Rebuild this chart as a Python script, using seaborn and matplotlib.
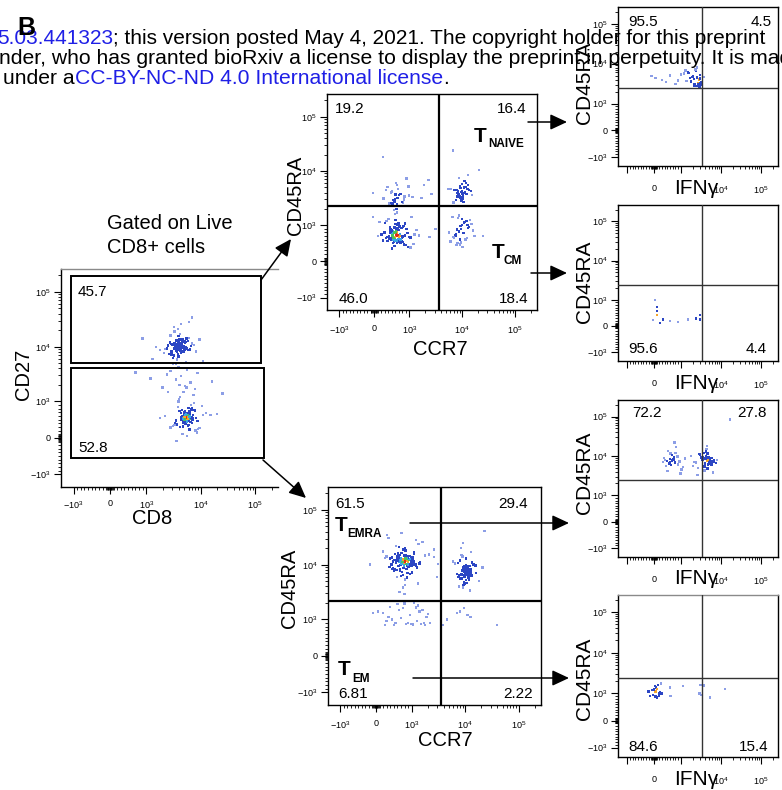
import numpy as np
import pandas as pd
import matplotlib
matplotlib.use("Agg")
import matplotlib.pyplot as plt
import seaborn as sns
from matplotlib.patches import Rectangle, FancyArrowPatch
from matplotlib.scale import SymmetricalLogTransform

# ---------------- DATA (fluorescence units) ----------------
# Panel A: CD8 (x) vs CD27 (y)
A_up_x = [4100, 3600, 5200, 2900, 4500, 3300, 6100, 3900, 2500, 4800, 3500, 5600, 4200, 3000, 7000, 3700, 4400, 2700, 5000, 3800,
          6600, 3200, 4600, 2200, 4000, 5400, 3400, 8200, 3900, 4700, 2600, 5800, 3600, 4300, 1800, 5100, 3100, 4900, 9500, 3700,
          4100, 2800, 6300, 3500, 4500, 2400, 5300, 3800, 7600, 3300, 4200, 1500, 5500, 4000, 3000, 6900, 3600, 4800, 2100, 4300,
          11000, 3900, 5000, 2900, 4400, 3200, 6000, 3700, 1300, 4600]
A_up_y = [10000, 8500, 12500, 7200, 11000, 9200, 14500, 6500, 10500, 8000, 13000, 9500, 17000, 7600, 11500, 5800, 9800, 12000, 8800, 21000,
          10200, 6900, 13800, 9000, 11200, 5200, 10800, 8200, 15500, 9400, 7400, 12800, 10100, 26000, 8600, 11800, 6200, 9700, 13400, 7900,
          10400, 16000, 8900, 4800, 11600, 9300, 12200, 7000, 10600, 19000, 8400, 9900, 14000, 6700, 11000, 34000, 9100, 12600, 7700, 10300,
          5500, 13200, 9600, 8100, 11400, 23000, 8700, 10900, 6000, 12400]
A_up_x2 = [3800, 4300, 3500, 4900, 4000, 3200, 4600, 3700, 5300, 4100, 3400, 4400, 3900, 5000, 3600, 4200, 3100, 4700, 4000, 3800,
           4500, 3300, 5600, 4100, 3700, 4800, 3500, 4300, 2900, 4000]
A_up_y2 = [9800, 11200, 8700, 10400, 12600, 9300, 8100, 10900, 9600, 13400, 10100, 7600, 11700, 9000, 10600, 8400, 11000, 12100, 9500, 7300,
           10300, 11600, 9100, 8600, 12900, 9900, 10700, 8900, 11300, 10000]
A_lo_x = [5600, 4800, 6400, 4200, 7200, 5100, 3800, 6000, 5300, 8000, 4500, 6800, 5800, 3400, 7600, 5000, 4300, 9000, 5500, 6200,
          4000, 7000, 5200, 3100, 6600, 4700, 8500, 5900, 4400, 10500, 5400, 6100, 3700, 7400, 4900, 5700, 2800, 6900, 5000, 12500,
          4600, 6300, 5300, 3900, 8200, 5800, 4100, 7100, 2500, 6500, 5100, 9500, 4400, 6000, 3500, 5600, 15000, 4800, 6700, 5200,
          3300, 7800, 5500, 4600, 2200, 6200, 5000, 8800, 4200, 5900, 3600, 20000, 5300, 6600, 1800, 4700, 7300, 5700, 4000, 11000]
A_lo_y = [550, 420, 700, 300, 620, 480, 850, 350, 580, 200, 760, 510, 650, 390, 950, 460, 570, 250, 690, 530,
          1100, 410, 600, 320, 780, 490, 150, 640, 560, 880, 440, 720, 370, 1300, 520, 610, 280, 800, 470, 680,
          100, 590, 450, 1000, 540, 330, 730, 500, 1500, 430, 660, 270, 570, 820, 480, 50, 630, 400, 900, 550,
          360, 750, 1800, 510, 600, 230, 700, 460, 1200, 580, -80, 650, 420, 2200, 540, 310, 770, 490, 980, 620]
A_lo_x2 = [5400, 6000, 4900, 5700, 5100, 6500, 4600, 5300, 5900, 4300, 6200, 5000, 5600, 4800, 6800, 5200, 5800, 4500, 6100, 5500,
           4700, 6400, 5300, 5000, 5900, 4400, 7200, 5600, 5100, 6300]
A_lo_y2 = [560, 480, 640, 520, 700, 430, 600, 540, 460, 680, 580, 500, 620, 420, 560, 740, 510, 590, 470, 650,
           530, 610, 390, 570, 690, 500, 550, 450, 630, 590]
A_mid_x = [3500, 5200, 2800, 4400, 6500, 3900, 7800, 2400, 4800, 5600, 1200, 900, 3100, 8800, 4100, 700, 6100, 2000, 16000, 25000]
A_mid_y = [2500, 1900, 3600, 2900, 2200, 4200, 1700, 3100, 1500, 3800, 2600, 14000, 4800, 3300, 2000, 3400, 28000, 1800, 2300, 1400]
A_gate_upper = (-1100, 127600, 5050, 195000)   # x0, x1, y0, y1
A_gate_lower = (-1100, 145000, -546, 4090)
A_pct = ["45.7", "52.8"]

# Panel B1: CCR7 (x) vs CD45RA (y), CD27+ cells
B1_main_x = [650, 480, 820, 560, 300, 720, 900, 610, 400, 1050, 530, 760, 680, 250, 590, 870, 450, 1200, 640, 700,
             350, 780, 520, 960, 600, 420, 1350, 690, 560, 200, 740, 830, 470, 620, 1100, 380, 660, 510, 910, 580,
             150, 730, 800, 440, 1000, 630, 550, 290, 850, 670, 1500, 490, 710, 600, 360, 940, 570, 770, 410, 640,
             1250, 530, 690, 330, 880, 610, 460, 1050, 720, 100, 590, 810, 500, 990, 650, 380, 1700, 560, 750, 620,
             430, 860, 680, 540, 260, 920, 600, 790, 470, 1150, 640, 520, 700, 340, 840, 580, -30, 970, 660, 490]
B1_main_y = [800, 620, 950, 540, 1100, 700, 450, 880, 1300, 660, 750, 520, 1000, 580, 1600, 720, 830, 480, 910, 640,
             1200, 560, 780, 400, 1050, 690, 860, 600, 1900, 740, 510, 970, 650, 820, 1400, 570, 710, 350, 890, 630,
             1150, 760, 530, 940, 680, 2000, 600, 800, 470, 1020, 720, 850, 550, 1250, 670, 780, 430, 930, 610, 1700,
             740, 500, 870, 650, 1080, 590, 810, 380, 960, 700, 3000, 2600, 4200, 3500, 2400, 5000, 3200, 2800, 3800, 6000,
             2500, 3400, 4600, 2900, 3100, 7200, 3700, 2700, 4000, 3300, 5500, 2450, 3600, 4400, 3000, 2650, 3900, 5200, 3150, 2550]
B1_main_x2 = [620, 700, 540, 780, 660, 480, 730, 590, 820, 640, 520, 760, 680, 600, 440, 710, 570, 850, 650, 500,
              740, 610, 690, 550, 800, 630, 580, 720, 460, 670]
B1_main_y2 = [700, 560, 820, 640, 900, 600, 760, 680, 540, 1000, 720, 620, 860, 580, 780, 660, 940, 700, 520, 840,
              600, 740, 1080, 640, 690, 560, 800, 620, 880, 730]
B1_ur_x = [10000, 8500, 11500, 9200, 12500, 7600, 10500, 9800, 13500, 8200, 10800, 6800, 9500, 11000, 8800, 14500, 10200, 9000, 12000, 7200,
           9600, 11200, 8600, 10400, 6200, 9900, 12800, 8000, 10600, 9300, 15500, 8400, 11800, 9700, 7800, 10100, 13000, 8900, 5500, 10900]
B1_ur_y = [4200, 3600, 5000, 3200, 4600, 2900, 3900, 5800, 4400, 3400, 4800, 2600, 4100, 6500, 3700, 4300, 3100, 5300, 3800, 4500,
           2800, 4000, 7500, 3500, 4700, 3300, 5500, 3900, 2700, 4900, 3600, 4200, 6000, 3000, 4400, 3800, 8500, 3400, 4600, 5100]
B1_lr_x = [9500, 7000, 12000, 8200, 15000, 10500, 6500, 9000, 13500, 7800, 11000, 8600, 17000, 9800, 6000, 12500, 8000, 10200, 14000, 7400,
           9300, 11500, 8800, 16000, 6800, 10800, 9600, 13000, 7600, 8400, 12200, 10000, 5600, 9100, 11800]
B1_lr_y = [900, 650, 1200, 500, 1050, 780, 1400, 600, 950, 450, 1150, 820, 700, 1300, 550, 1000, 880, 400, 1250, 720,
           980, 600, 1500, 850, 680, 1100, 520, 920, 760, 1350, 640, 1020, 800, 470, 1180]
B1_sp_x = [250, 2300, 6700, 21000, 2400, -40, 3100, 2600, 25000, 1900]
B1_sp_y = [18000, 6800, 24000, 10500, 680, 1400, 900, 3800, 700, 5500]
B1_gate = (3600, 2270)
B1_pct = ["19.2", "16.4", "46.0", "18.4"]

# Panel B2: CCR7 (x) vs CD45RA (y), CD27- cells
B2_ul_x = [800, 650, 950, 520, 1100, 720, 880, 400, 1000, 760, 600, 1250, 840, 700, 480, 1050, 900, 560, 1400, 780,
           680, 300, 980, 820, 620, 1150, 740, 860, 450, 1600, 790, 660, 1020, 540, 920, 720, 1300, 600, 850, 200,
           1080, 770, 640, 960, 500, 1200, 810, 710, 1800, 580, 890, 750, 1000, 430, 1120, 680, 940, 620, 350, 1450,
           800, 730, 1050, 560, 870, 2100, 690, 990, 470, 830, 1180, 610, 760, 910, 380, 1350, 720, 850, 540, 1000,
           660, 2600, 780, 940, 500, 1100, 700, 820, 250, 960, 640, 1250, 740, 590, 880, 3100, 710, 1030, 460, 800]
B2_ul_y = [12000, 9500, 14500, 8000, 11000, 16500, 7000, 13000, 10000, 19000, 12500, 8800, 15000, 6200, 11500, 13800, 9200, 22000, 10500, 12800,
           7600, 14000, 11800, 5400, 16000, 9800, 12200, 8400, 13500, 26000, 10800, 11300, 7200, 15500, 9000, 12600, 4500, 14200, 10300, 17500,
           11700, 8600, 13200, 6800, 12100, 9600, 20000, 10900, 14800, 7900, 11400, 3800, 13600, 10100, 16800, 8200, 12400, 9400, 31000, 11100,
           14600, 7400, 12900, 10600, 5800, 15200, 9900, 11900, 8700, 18000, 10400, 13300, 6500, 12300, 9100, 24000, 11600, 14400, 8100, 10700,
           3200, 13900, 9700, 12700, 7700, 15800, 11200, 4200, 13100, 10000, 21000, 8900, 12000, 6000, 14100, 10200, 38000, 11500, 8300, 2900]
B2_ul_x2 = [820, 700, 950, 760, 880, 640, 1020, 790, 720, 900, 600, 1100, 840, 680, 980, 750, 860, 560, 930, 810,
            710, 1050, 780, 650, 890, 830, 740, 1000, 690, 870]
B2_ul_y2 = [11500, 13000, 10200, 12400, 9400, 14200, 11000, 12800, 10600, 13600, 11800, 9800, 12200, 15000, 10900, 11600, 13300, 12000, 9000, 14800,
            10400, 12600, 11300, 13900, 10000, 12900, 11100, 9600, 12300, 11700]
B2_ur_x = [10500, 9000, 12000, 8200, 11200, 13500, 7500, 10000, 9600, 14500, 8800, 11800, 10300, 7000, 12600, 9300, 10800, 16000, 8500, 11500,
           9800, 6500, 12300, 10100, 9100, 13000, 8000, 11000, 10600, 18000, 9400, 12800, 7800, 10900, 9700, 14000, 8600, 11300, 6000, 10200,
           12200, 9000, 15500, 10400, 8300, 11700, 9500, 21000, 10700, 7300, 12400, 9900, 11100, 8900, 13200, 10000, 7700, 11600, 9200, 12900]
B2_ur_y = [8000, 6500, 9500, 5500, 7200, 11000, 6000, 8600, 4800, 10000, 7600, 5200, 13000, 6800, 8300, 4300, 9000, 7000, 15000, 5800,
           7800, 10500, 6200, 8800, 3800, 7400, 12000, 6600, 9300, 5000, 8100, 17000, 6400, 7100, 4500, 9800, 5600, 8500, 11500, 6900,
           3400, 7700, 9600, 5300, 20000, 7300, 6100, 8900, 4600, 10800, 7500, 5900, 8200, 14000, 6300, 9100, 4000, 7900, 25000, 6700]
B2_ur_x2 = [10200, 9400, 11000, 9800, 10600, 8800, 11600, 10000, 9200, 12000, 10400, 9600, 11300, 8500, 10800, 9900, 12500, 9100, 10300, 11100]
B2_ur_y2 = [7600, 8500, 6900, 9200, 7200, 8000, 6400, 8800, 7800, 7000, 9600, 7400, 8300, 6700, 8600, 7100, 7900, 9000, 6600, 8100]
B2_lo_x = [500, 200, 900, 1300, 650, 1800, 350, 1100, 750, 2200, 50, 950, 1500, 400, 1250, 600, 2000, 850, 300, 1600,
           700, -80, 1050, 1400, 550, 1900, 800, 250, 1200, 450, 8000, 11000, 9500, 12500, 7000, 39000, 3900, 4600, 1000, 1700]
B2_lo_y = [850, 1300, 900, 1800, 1500, 850, 1100, 2000, 1600, 900, 1400, 1200, 870, 1700, 950, 1900, 1250, 880, 950, 1500,
           1050, 1300, 860, 1400, 900, 1100, 1950, 850, 1650, 1000, 1400, 1200, 1600, 1100, 1300, 850, 850, 1000, 870, 900]
B2_sp_x = [23000, -170, 315, 1200, 2600, 3000]
B2_sp_y = [41000, 10000, 35000, 28000, 19000, 6000]
B2_gate = (3530, 2180)
B2_pct = ["61.5", "29.4", "6.81", "2.22"]

# Right column: IFNg (x) vs CD45RA (y)
R1_x = [2500, 1800, 3000, 2200, 1500, 2800, 3200, 1200, 2600, 2000, 900, 2400, 3100, 1700, 600, 2900, 2300, 300, 1900, 2700,
        1000, 2100, 3300, 1400, 50, 2500, 800, 1600, 2950, 450, 3800, 2200, 1300, 2650, -100]
R1_y = [4500, 3600, 5200, 3000, 6000, 4000, 3400, 5600, 2800, 4800, 3800, 6500, 3200, 4300, 5000, 2700, 7200, 3900, 4600, 3300,
        5400, 4100, 2900, 3700, 4400, 8000, 3100, 5800, 4200, 3500, 4700, 2750, 6800, 3000, 4900]
R2_x = [35, 110, 110, 110, -40, 220, 330, 600, 890, 1500, 2380, 2990, 2990]
R2_y = [1000, 725, 570, 420, 230, 110, 250, 180, 150, 250, 280, 420, 250]
R3_x = [700, 550, 850, 450, 950, 620, 780, 380, 1050, 680, 520, 900, 740, 330, 820, 600, 1150, 660, 480, 990,
        720, 570, 870, 410, 760, 640, 1250, 590, 800, 500,
        4500, 3600, 5200, 2900, 4800, 3900, 6000, 2400, 4200, 5500, 3300, 4700, 6800, 3000, 4000, 5000, 2100, 4400, 5800, 3500,
        4600, 1800, 5300, 3800, 7500, 4100, 2700, 4900, 3400, 6300, 4300, 5100, 3700, 2000, 4500, 5700, 3200, 4800, 8000, 3900,
        5400, 2600, 4600, 6500, 16700]
R3_y = [8000, 6500, 9800, 5500, 7200, 11500, 6800, 8800, 4500, 7600, 13500, 6000, 9200, 7000, 17000, 8400, 5200, 10500, 7400, 3600,
        8200, 6200, 9600, 7800, 22000, 5800, 8600, 7100, 12000, 4200,
        7500, 9500, 6200, 11000, 8000, 5400, 8800, 6800, 13000, 7200, 9000, 5800, 7600, 10500, 6500, 8400, 7000, 15000, 6000, 8200,
        4800, 9800, 7400, 12000, 6600, 8600, 5000, 9200, 7800, 3800, 10000, 6900, 8300, 5600, 18000, 7100, 9400, 6300, 7900, 4300,
        8700, 3300, 11500, 7300, 83000]
R4_x = [-150, 50, 80, -50, 150, 200, 0, 120, -200, 250, 60, 100, 300, 30, 180, 600, 620, 1130, -80, 220, 2900, 3100, 3700, 5400, 12500, 3300]
R4_y = [900, 1100, 1400, 950, 1600, 1000, 1250, 850, 1100, 1750, 880, 1300, 1000, 1500, 920, 1400, 900, 1500, 1200, 1050, 1000, 1600, 1550, 850, 1300, 950]
R_gate = (3360, 2400)
R_pct = [["95.5", "4.5"], ["95.6", "4.4"], ["72.2", "27.8"], ["84.6", "15.4"]]

MAJOR = [-1000, 0, 1000, 10000, 100000]
MAJOR_LBL = [r"$-10^{3}$", "0", r"$10^{3}$", r"$10^{4}$", r"$10^{5}$"]
R_XLBL = ["", "0", "", r"$10^{4}$", r"$10^{5}$"]

# ---------------- STYLE ----------------
sns.set_theme(style="ticks")
plt.rcParams["font.family"] = ["Liberation Sans", "DejaVu Sans"]
plt.rcParams.update({
    "mathtext.fontset": "custom", "mathtext.rm": "Liberation Sans",
    "mathtext.it": "Liberation Sans:italic", "mathtext.bf": "Liberation Sans:bold",
    "axes.edgecolor": "black", "xtick.color": "black", "ytick.color": "black",
    "axes.linewidth": 1.0, "text.color": "black",
})
LINTHRESH, LINSCALE = 1000, 0.6
LIM = (-1700, 262144)
TR = SymmetricalLogTransform(10, LINTHRESH, LINSCALE)
ORDER = ["l0", "l1", "l2", "l3", "l4", "l5"]
PAL = {"l0": "#8c9ee6", "l1": "#2c46c4", "l2": "#3aa6e6", "l3": "#4cc25a", "l4": "#f4a62a", "l5": "#e3281f"}
MINOR = ([-v for v in range(100, 1000, 100)] + [-80, -60, -40, -20, 20, 40, 60, 80] + list(range(100, 1000, 100))
         + list(range(2000, 10000, 1000)) + list(range(20000, 100000, 10000)) + [200000])

W, H = 782, 790
fig = plt.figure(figsize=(W / 100, H / 100), dpi=100)


def add_ax(l, t, r, b):
    return fig.add_axes([l / W, 1 - b / H, (r - l) / W, (b - t) / H])


def ftext(x, y, s, **kw):
    kw.setdefault("va", "baseline")
    return fig.text(x / W, 1 - y / H, s, **kw)


def flow_panel(box, xs_list, ys_list, hot=True, xlabels=MAJOR_LBL, xpad=4, ypad=2.5):
    ax = add_ax(*box)
    xs = np.concatenate([np.asarray(a, float)[:min(len(a), len(b))] for a, b in zip(xs_list, ys_list)])
    ys = np.concatenate([np.asarray(b, float)[:min(len(a), len(b))] for a, b in zip(xs_list, ys_list)])
    # symlog display units (1 unit = 1 decade)
    tx, ty = TR.transform(xs) / LINTHRESH, TR.transform(ys) / LINTHRESH
    d2 = (tx[:, None] - tx[None, :]) ** 2 + (ty[:, None] - ty[None, :]) ** 2
    dens = np.exp(-d2 / (2 * 0.12 ** 2)).sum(1)
    n = len(xs)
    r = dens.argsort().argsort() / max(n - 1, 1)
    if hot:
        lvl = np.select([r < 0.3, r < 0.88, r < 0.93, r < 0.96, r < 0.985], ORDER[:5], "l5")
    else:
        lvl = np.select([r < 0.4, r < 0.96], ["l0", "l1"], "l4")
    df = pd.DataFrame({"x": xs, "y": ys, "lvl": lvl})
    sns.scatterplot(data=df, x="x", y="y", hue="lvl", hue_order=ORDER, palette=PAL, legend=False,
                    marker="s", s=3, linewidth=0, ax=ax, zorder=2)
    ax.set_xscale("symlog", linthresh=LINTHRESH, linscale=LINSCALE)
    ax.set_yscale("symlog", linthresh=LINTHRESH, linscale=LINSCALE)
    ax.set_xlim(LIM)
    ax.set_ylim(LIM)
    ax.set_xlabel("")
    ax.set_ylabel("")
    ax.set_xticks(MAJOR)
    ax.set_xticklabels(xlabels)
    ax.set_yticks(MAJOR)
    ax.set_yticklabels(MAJOR_LBL)
    ax.set_xticks(MINOR, minor=True)
    ax.set_yticks(MINOR, minor=True)
    ax.tick_params(which="major", length=5, width=0.8, direction="out", labelsize=6.5)
    ax.tick_params(which="minor", length=2.5, width=0.6, direction="out")
    ax.tick_params(axis="x", which="major", pad=xpad)
    ax.tick_params(axis="y", which="major", pad=ypad)
    for sp in ax.spines.values():
        sp.set_linewidth(1.0)
        sp.set_color("black")
    return ax


# ---------------- Panel A ----------------
axA = flow_panel((61, 269, 278, 487), [A_up_x, A_up_x2, A_lo_x, A_lo_x2, A_mid_x],
                 [A_up_y, A_up_y2, A_lo_y, A_lo_y2, A_mid_y])
axA.spines["right"].set_visible(False)
axA.spines["top"].set_color("#8a8a8a")
for (x0, x1, y0, y1) in [A_gate_upper, A_gate_lower]:
    axA.add_patch(Rectangle((x0, y0), x1 - x0, y1 - y0, fill=False, ec="black", lw=1.4,
                            transform=axA.transData, clip_on=False, zorder=3))
ftext(78, 296, A_pct[0], fontsize=11)
ftext(78, 452, A_pct[1], fontsize=11)
ftext(24, 374, "CD27", fontsize=14.5, rotation=90, ha="center", va="center")
ftext(152, 519, "CD8", fontsize=14.5, ha="center", va="center")
ftext(107, 229, "Gated on Live", fontsize=14.5, ha="left")
ftext(107, 253, "CD8+ cells", fontsize=14.5, ha="left")

# ---------------- Panel B1 ----------------
axB1 = flow_panel((327, 94, 537, 310), [B1_main_x, B1_main_x2, B1_ur_x, B1_lr_x, B1_sp_x],
                  [B1_main_y, B1_main_y2, B1_ur_y, B1_lr_y, B1_sp_y], xpad=5)
axB1.axvline(B1_gate[0], color="black", lw=1.6, zorder=3)
axB1.axhline(B1_gate[1], color="black", lw=1.6, zorder=3)
ftext(335, 113, B1_pct[0], fontsize=11, ha="left")
ftext(526, 113, B1_pct[1], fontsize=11, ha="right")
ftext(339, 303, B1_pct[2], fontsize=11, ha="left")
ftext(528, 303, B1_pct[3], fontsize=11, ha="right")
ftext(295, 195, "CD45RA", fontsize=14.5, rotation=90, ha="center", va="center")
ftext(440, 350, "CCR7", fontsize=14.5, ha="center", va="center")
ftext(474, 142, "T", fontsize=15, fontweight="bold")
ftext(488, 147, "NAIVE", fontsize=8.5, fontweight="bold")
ftext(492, 258, "T", fontsize=15, fontweight="bold")
ftext(503, 264, "CM", fontsize=8.5, fontweight="bold")

# ---------------- Panel B2 ----------------
axB2 = flow_panel((328, 487, 541, 705), [B2_ul_x, B2_ul_x2, B2_ur_x, B2_ur_x2, B2_lo_x, B2_sp_x],
                  [B2_ul_y, B2_ul_y2, B2_ur_y, B2_ur_y2, B2_lo_y, B2_sp_y], xpad=5)
axB2.axvline(B2_gate[0], color="black", lw=1.6, zorder=3)
axB2.axhline(B2_gate[1], color="black", lw=1.6, zorder=3)
ftext(335, 508, B2_pct[0], fontsize=11, ha="left")
ftext(528, 508, B2_pct[1], fontsize=11, ha="right")
ftext(338, 698, B2_pct[2], fontsize=11, ha="left")
ftext(533, 698, B2_pct[3], fontsize=11, ha="right")
ftext(289, 588, "CD45RA", fontsize=14.5, rotation=90, ha="center", va="center")
ftext(445, 741, "CCR7", fontsize=14.5, ha="center", va="center")
ftext(335, 531, "T", fontsize=15, fontweight="bold")
ftext(347, 537, "EMRA", fontsize=8.5, fontweight="bold")
ftext(338, 675, "T", fontsize=15, fontweight="bold")
ftext(352, 682, "EM", fontsize=8.5, fontweight="bold")

# ---------------- Right column ----------------
R_boxes = [(618, 7, 778, 166), (618, 205, 778, 361), (618, 400, 778, 557), (618, 595, 778, 757)]
R_data = [(R1_x, R1_y), (R2_x, R2_y), (R3_x, R3_y), (R4_x, R4_y)]
R_lbl_y = [(26, 772), (353, 767), (417, 767), (751, 768)]
R_ylab = [83, 282, 473, 679]
R_xlab = [194, 389, 584, 785]
for i, (box, (rx, ry)) in enumerate(zip(R_boxes, R_data)):
    ax = flow_panel(box, [rx], [ry], hot=False, xlabels=R_XLBL, xpad=8, ypad=2.5)
    ax.axvline(R_gate[0], color="#333333", lw=1.0, zorder=3)
    ax.axhline(R_gate[1], color="#333333", lw=1.0, zorder=3)
    if i == 3:
        ax.spines["top"].set_color("#8a8a8a")
    by, rxp = R_lbl_y[i]
    ftext(628 if i != 2 else 632, by, R_pct[i][0], fontsize=11, ha="left")
    ftext(rxp, by, R_pct[i][1], fontsize=11, ha="right")
    ftext(584.5, R_ylab[i], "CD45RA", fontsize=15, rotation=90, ha="center", va="center")
    ftext(696, R_xlab[i], "IFNγ", fontsize=15, ha="center")

# ---------------- Arrows ----------------
ARROWS = [((261, 280), (291, 239)), ((263, 460), (306, 498)), ((528, 122), (567, 122)),
          ((531, 273), (567, 273)), ((410, 523), (569, 523)), ((413, 678), (569, 678))]
for (x0, y0), (x1, y1) in ARROWS:
    fig.add_artist(FancyArrowPatch((x0 / W, 1 - y0 / H), (x1 / W, 1 - y1 / H), transform=fig.transFigure,
                                   arrowstyle="-|>,head_length=0.6,head_width=0.28", mutation_scale=17,
                                   color="black", lw=1.1, shrinkA=0, shrinkB=0, zorder=5))

# ---------------- Header (preprint watermark) ----------------
renderer = fig.canvas.get_renderer()
BLUE = "#1f1fe6"


def seg_line(x, y, segs, size=15.2):
    for s, col in segs:
        t = ftext(x, y, s, color=col, fontsize=size, ha="left", zorder=10)
        x += t.get_window_extent(renderer).width


seg_line(-3, 44, [("5.03.441323", BLUE), ("; this version posted May 4, 2021. The copyright holder for this preprint", "black")], size=15.0)
seg_line(-1, 64, [("nder, who has granted bioRxiv a license to display the preprint in perpetuity. It is made", "black")])
seg_line(3, 84, [("under a", "black"), ("CC-BY-NC-ND 4.0 International license", BLUE), (".", "black")])
ftext(17, 35, "B", fontsize=18, fontweight="bold", zorder=11)

fig.savefig("out.png", dpi=100)
